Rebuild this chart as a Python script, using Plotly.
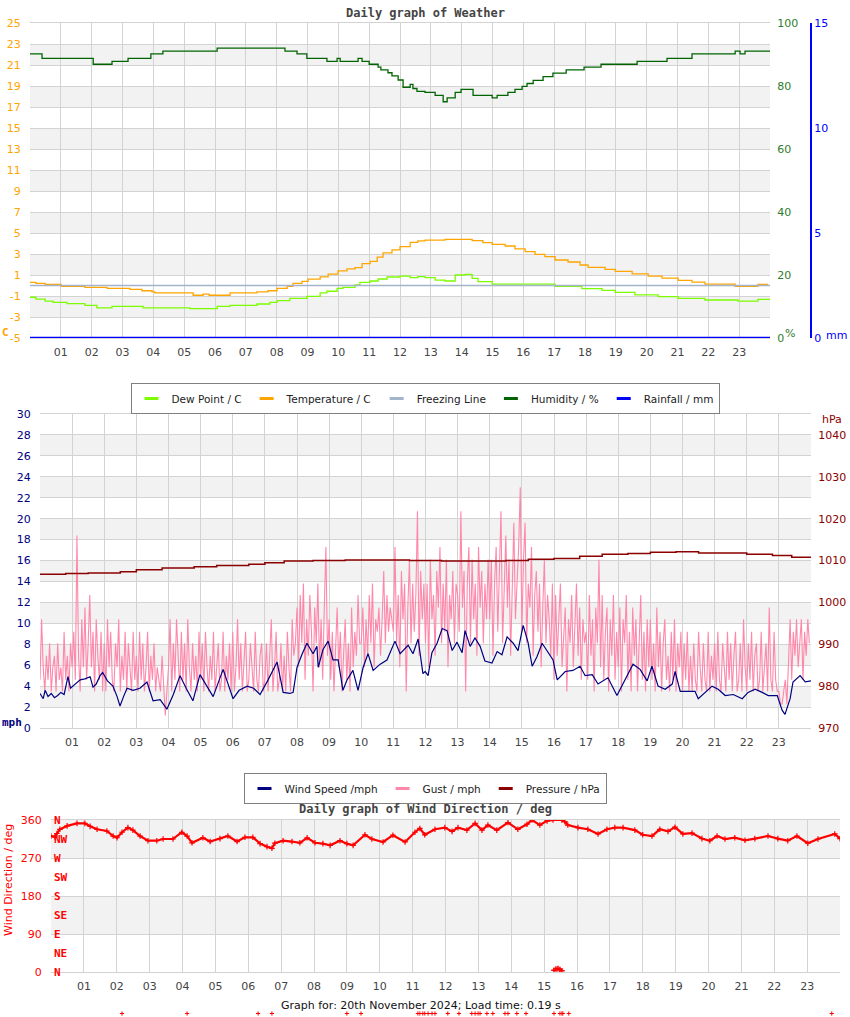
import plotly.graph_objects as go

W, H = 850, 1017

# ---------------- Chart 1: weather ----------------
temp_hours = [0.00, 0.19, 0.49, 1.01, 1.78, 2.50, 3.24, 3.63, 3.96, 4.05, 5.29, 5.61, 5.81, 6.49, 7.36,
              7.72, 8.01, 8.34, 8.53, 8.82, 9.02, 9.41, 9.67, 9.99, 10.28, 10.54, 10.77, 11.03, 11.26,
              11.45, 11.74, 12.00, 12.33, 12.58, 12.81, 13.46, 14.34, 14.69, 14.99, 15.41, 15.73, 16.06,
              16.38, 16.70, 17.03, 17.45, 17.84, 18.10, 18.65, 18.98, 19.53, 20.05, 20.50, 21.02, 21.47,
              21.89, 22.87, 23.61, 23.94]
temp_c = [0.30, 0.21, 0.11, -0.08, -0.17, -0.27, -0.36, -0.50, -0.60, -0.71, -0.93, -0.82, -0.93, -0.71,
          -0.60, -0.50, -0.27, -0.08, 0.21, 0.40, 0.60, 0.83, 1.08, 1.40, 1.59, 1.70, 2.08, 2.30, 2.71,
          3.10, 3.40, 3.70, 4.10, 4.25, 4.33, 4.40, 4.27, 4.08, 3.92, 3.76, 3.48, 3.22, 2.97, 2.75, 2.43,
          2.24, 1.95, 1.73, 1.54, 1.35, 1.10, 0.90, 0.71, 0.49, 0.33, 0.14, -0.08, 0.11, 0.11]

dew_hours = [0.00, 0.19, 0.49, 0.75, 1.20, 1.78, 2.17, 2.66, 3.67, 5.19, 6.07, 6.49, 7.36, 7.78, 8.01,
             8.43, 8.98, 9.41, 9.63, 9.96, 10.15, 10.54, 10.70, 11.03, 11.29, 11.58, 12.00, 12.33, 12.58,
             12.81, 13.14, 13.46, 13.79, 14.11, 14.34, 14.53, 14.99, 16.06, 17.03, 17.90, 18.55, 18.98,
             19.62, 20.37, 21.02, 21.89, 22.96, 23.61, 24.00]
dew_c = [-1.12, -1.29, -1.48, -1.60, -1.73, -1.89, -2.14, -1.98, -2.14, -2.20, -1.98, -1.89, -1.76, -1.60,
         -1.45, -1.22, -1.03, -0.71, -0.55, -0.27, -0.17, 0.05, 0.30, 0.43, 0.62, 0.81, 0.90, 0.75, 0.85,
         0.75, 0.52, 0.43, 1.00, 1.05, 0.68, 0.37, 0.14, 0.14, -0.08, -0.30, -0.46, -0.65, -0.90, -1.06,
         -1.22, -1.38, -1.48, -1.32, -1.30]

hum_hours = [0.00, 0.39, 2.05, 2.66, 3.18, 3.92, 4.31, 6.07, 8.27, 8.66, 8.98, 9.63, 9.96, 10.06, 10.64,
             10.77, 11.00, 11.29, 11.38, 11.61, 11.74, 11.94, 12.10, 12.33, 12.42, 12.55, 12.81, 13.14,
             13.40, 13.53, 13.79, 13.98, 14.37, 14.99, 15.15, 15.50, 15.73, 15.96, 16.12, 16.32, 16.64,
             16.96, 17.39, 17.97, 18.52, 19.69, 20.66, 21.47, 22.87, 23.03, 23.19, 24.00]
hum_pct = [90.2, 88.8, 86.9, 87.8, 88.8, 90.2, 91.1, 92.0, 91.1, 90.2, 88.8, 87.8, 88.8, 87.8, 88.8,
           87.8, 86.9, 86.0, 85.1, 84.2, 83.2, 81.9, 79.6, 80.5, 79.2, 78.3, 78.0, 77.0,
           75.0, 76.2, 78.0, 78.9, 77.0, 76.2, 77.0, 78.0, 78.9, 79.9, 80.8, 81.8, 83.0,
           84.1, 85.1, 86.0, 86.9, 87.8, 88.8, 90.2, 91.1, 90.2, 91.1, 91.1]

freeze_hours = [0, 24]
freeze_c = [0, 0]
rain_hours = [0, 6, 12, 18, 24]
rain_mm = [0, 0, 0, 0, 0]

temp_ticks = list(range(-5, 26, 2))
temp_tick_text = [str(v) for v in temp_ticks]

# ---------------- Chart 2: wind ----------------
wind_hours = [0.00, 0.10, 0.16, 0.25, 0.35, 0.45, 0.55, 0.65, 0.75, 0.87, 0.95, 1.10, 1.25, 1.40, 1.56,
              1.65, 1.75, 1.87, 1.95, 2.10, 2.27, 2.40, 2.49, 2.60, 2.71, 2.90, 3.11, 3.33, 3.45, 3.52,
              3.74, 3.95, 4.15, 4.36, 4.55, 4.76, 4.98, 5.20, 5.39, 5.70, 6.01, 6.20, 6.45, 6.65, 6.85,
              7.10, 7.38, 7.57, 7.78, 7.88, 8.00, 8.15, 8.31, 8.50, 8.62, 8.66, 8.81, 8.97, 9.12, 9.28,
              9.43, 9.56, 9.74, 9.90, 10.06, 10.21, 10.37, 10.59, 10.80, 11.05, 11.21, 11.46, 11.61,
              11.77, 11.92, 11.99, 12.08, 12.20, 12.36, 12.52, 12.67, 12.83, 12.98, 13.14, 13.23, 13.39,
              13.54, 13.70, 13.85, 14.07, 14.23, 14.38, 14.54, 14.73, 14.88, 15.04, 15.19, 15.32, 15.47,
              15.63, 15.78, 15.97, 16.10, 16.35, 16.59, 16.81, 16.97, 17.19, 17.37, 17.68, 17.96, 18.21,
              18.46, 18.68, 18.90, 19.05, 19.24, 19.46, 19.68, 19.77, 19.93, 20.17, 20.39, 20.49, 20.70,
              20.92, 21.11, 21.33, 21.58, 21.86, 22.04, 22.26, 22.48, 22.67, 22.95, 23.10, 23.19, 23.35,
              23.44, 23.66, 23.82, 24.00]
wind_mph = [3.3, 2.8, 3.6, 3.0, 3.3, 2.9, 3.1, 3.4, 3.2, 4.9, 3.8, 4.2, 4.6, 4.7, 4.9,
            3.9, 4.2, 5.0, 5.3, 4.5, 4.0, 3.0, 2.1, 3.0, 3.8, 3.6, 3.8, 4.4, 3.2, 2.6,
            2.7, 1.8, 3.2, 5.0, 3.8, 2.6, 5.1, 4.0, 3.0, 5.6, 2.8, 3.6, 4.0, 3.8, 3.2,
            4.6, 6.3, 3.4, 3.3, 3.4, 5.8, 7.0, 8.1, 7.1, 7.8, 5.8, 7.5, 8.3, 6.5, 6.5,
            3.6, 4.6, 5.5, 3.6, 5.8, 7.1, 5.5, 6.1, 6.5, 8.3, 7.1, 7.9, 7.1,
            8.5, 5.2, 5.4, 5.0, 7.2, 8.1, 9.5, 9.3, 7.4, 8.2, 7.2, 9.3, 7.8,
            8.6, 7.8, 6.4, 6.2, 7.3, 7.0, 8.7, 8.1, 7.4, 9.8, 8.2, 5.9, 6.8,
            8.1, 7.4, 6.5, 4.6, 5.4, 5.5, 5.9, 5.0, 5.1, 4.2, 4.8, 3.1, 4.6,
            6.1, 5.6, 4.5, 5.9, 4.0, 3.7, 4.2, 5.4, 3.5, 3.5, 3.5, 2.8, 3.4,
            4.0, 3.7, 3.1, 3.2, 2.8, 3.4, 3.7, 3.4, 3.1, 3.1, 1.7, 1.3, 2.8,
            4.4, 5.0, 4.4, 4.5]

# gust readings, 20 per hour (every 3 minutes)
gust_by_hour = [
    [4.6, 10.4, 5.8, 3.5, 6.9, 4.6, 8.1, 3.5, 5.8, 6.9, 3.5, 8.1, 4.6, 5.8, 3.5, 9.2, 4.6, 6.9, 3.5, 8.1],
    [5.8, 9.2, 4.6, 18.4, 6.9, 3.5, 10.4, 5.8, 11.5, 4.6, 8.1, 12.7, 5.8, 9.2, 3.5, 10.4, 6.9, 4.6, 9.2, 3.5],
    [8.1, 3.5, 10.4, 5.8, 9.2, 4.6, 3.5, 8.1, 5.8, 10.4, 3.5, 6.9, 4.6, 9.2, 3.5, 8.1, 5.8, 3.5, 9.2, 4.6],
    [6.9, 3.5, 9.2, 4.6, 8.1, 3.5, 5.8, 9.2, 3.5, 6.9, 4.6, 8.1, 3.5, 5.8, 4.6, 3.5, 6.9, 3.5, 1.2, 3.5],
    [5.8, 10.4, 3.5, 8.1, 4.6, 10.4, 6.9, 3.5, 9.2, 4.6, 8.1, 3.5, 10.4, 5.8, 3.5, 8.1, 4.6, 6.9, 3.5, 9.2],
    [4.6, 8.1, 3.5, 9.2, 5.8, 3.5, 6.9, 4.6, 9.2, 3.5, 5.8, 8.1, 3.5, 4.6, 9.2, 3.5, 6.9, 4.6, 8.1, 3.5],
    [9.2, 3.5, 5.8, 10.4, 4.6, 8.1, 3.5, 6.9, 9.2, 3.5, 4.6, 8.1, 5.8, 3.5, 9.2, 4.6, 3.5, 6.9, 8.1, 3.5],
    [4.6, 8.1, 3.5, 6.9, 10.4, 3.5, 5.8, 9.2, 3.5, 4.6, 8.1, 3.5, 6.9, 3.5, 9.2, 5.8, 3.5, 10.4, 6.9, 8.1],
    [11.5, 5.8, 12.7, 8.1, 13.8, 4.6, 10.4, 6.9, 12.7, 9.2, 3.5, 11.5, 8.1, 13.8, 5.8, 10.4, 4.6, 11.5, 17.3, 6.9],
    [10.4, 4.6, 9.2, 3.5, 8.1, 11.5, 5.8, 9.2, 3.5, 6.9, 10.4, 4.6, 8.1, 3.5, 11.5, 5.8, 9.2, 6.9, 12.7, 8.1],
    [8.1, 11.5, 5.8, 10.4, 6.9, 12.7, 8.1, 13.8, 5.8, 10.4, 9.2, 11.5, 6.9, 10.4, 15.0, 8.1, 12.7, 9.2, 11.5, 10.4],
    [9.2, 17.3, 8.1, 12.7, 5.8, 15.0, 10.4, 13.8, 3.5, 11.5, 16.1, 8.1, 13.8, 9.2, 12.7, 20.7, 6.9, 15.0, 10.4, 13.8],
    [8.1, 13.8, 5.8, 16.1, 10.4, 12.7, 6.9, 15.0, 11.5, 17.3, 8.1, 13.8, 9.2, 16.1, 5.8, 12.7, 10.4, 15.0, 8.1, 13.8],
    [12.7, 9.2, 20.7, 11.5, 15.0, 3.5, 13.8, 17.3, 8.1, 16.1, 10.4, 13.8, 6.9, 17.3, 11.5, 15.0, 8.1, 13.8, 10.4, 16.1],
    [10.4, 16.1, 6.9, 13.8, 17.3, 9.2, 15.0, 20.7, 8.1, 13.8, 18.4, 11.5, 16.1, 6.9, 15.0, 19.6, 10.4, 13.8, 17.3, 23.0],
    [9.2, 16.1, 19.6, 8.1, 13.8, 11.5, 17.3, 6.9, 12.7, 15.0, 9.2, 13.8, 5.8, 11.5, 16.1, 8.1, 12.7, 10.4, 6.9, 13.8],
    [4.6, 12.7, 6.9, 10.4, 13.8, 5.8, 9.2, 11.5, 3.5, 10.4, 8.1, 12.7, 5.8, 9.2, 13.8, 6.9, 11.5, 4.6, 10.4, 8.1],
    [9.2, 4.6, 12.7, 6.9, 10.4, 3.5, 11.5, 8.1, 16.1, 5.8, 12.7, 4.6, 9.2, 11.5, 3.5, 10.4, 6.9, 12.7, 4.6, 9.2],
    [5.8, 11.5, 3.5, 10.4, 8.1, 12.7, 4.6, 9.2, 3.5, 11.5, 6.9, 10.4, 3.5, 8.1, 12.7, 4.6, 9.2, 3.5, 10.4, 5.8],
    [10.4, 4.6, 8.1, 3.5, 11.5, 5.8, 9.2, 3.5, 8.1, 10.4, 4.6, 6.9, 3.5, 9.2, 4.6, 10.4, 3.5, 8.1, 5.8, 9.2],
    [3.5, 8.1, 4.6, 9.2, 3.5, 6.9, 3.5, 8.1, 4.6, 3.5, 9.2, 5.8, 3.5, 8.1, 4.6, 3.5, 9.2, 3.5, 6.9, 4.6],
    [8.1, 3.5, 9.2, 4.6, 3.5, 8.1, 5.8, 3.5, 9.2, 4.6, 8.1, 3.5, 6.9, 9.2, 3.5, 4.6, 8.1, 3.5, 10.4, 5.8],
    [3.5, 8.1, 4.6, 9.2, 3.5, 6.9, 8.1, 3.5, 4.6, 9.2, 3.5, 5.8, 8.1, 3.5, 11.5, 4.6, 3.5, 9.2, 4.6, 3.5],
    [3.5, 2.3, 2.3, 3.5, 4.6, 2.3, 6.9, 10.4, 4.6, 9.2, 6.9, 10.4, 5.8, 8.1, 10.4, 4.6, 9.2, 6.9, 10.4, 8.1],
]

press_hours = [0, 0.8, 1.5, 2.5, 3.0, 3.8, 4.8, 5.5, 6.5, 7.0, 7.6, 8.5, 9.5, 10.5, 11.5, 12.5, 13.5,
               14.5, 15.2, 16.0, 16.8, 17.5, 18.3, 19.0, 19.8, 20.5, 21.3, 22.0, 22.8, 23.4, 24.0]
press_hpa = [1006.7, 1006.9, 1007.0, 1007.3, 1007.8, 1008.2, 1008.5, 1008.8, 1009.1, 1009.5, 1009.9,
             1010.0, 1010.1, 1010.1, 1010.0, 1009.9, 1009.9, 1010.0, 1010.3, 1010.5, 1011.0, 1011.5,
             1011.7, 1012.0, 1012.1, 1011.8, 1011.8, 1011.5, 1011.2, 1010.8, 1010.6]

# ---------------- Chart 3: wind direction ----------------
dir_hours = [0.00, 0.12, 0.18, 0.27, 0.49, 0.79, 1.03, 1.19, 1.40, 1.70, 1.89, 2.01, 2.16, 2.34, 2.49,
             2.71, 2.95, 3.22, 3.41, 3.71, 3.98, 4.14, 4.29, 4.62, 4.84, 5.14, 5.38, 5.66, 5.90, 6.14,
             6.36, 6.57, 6.72, 6.81, 7.06, 7.33, 7.57, 7.79, 8.03, 8.27, 8.49, 8.79, 9.00, 9.19, 9.55,
             9.76, 10.10, 10.40, 10.77, 11.07, 11.22, 11.37, 11.68, 11.98, 12.20, 12.38, 12.65, 12.90,
             13.11, 13.29, 13.56, 13.90, 14.20, 14.48, 14.63, 14.87, 15.09, 15.27, 15.54, 15.63, 15.72,
             16.03, 16.33, 16.64, 16.91, 17.15, 17.40, 17.76, 18.00, 18.28, 18.52, 18.77, 18.98, 19.22,
             19.50, 19.80, 20.04, 20.26, 20.50, 20.80, 21.11, 21.41, 21.81, 22.11, 22.41, 22.69, 23.02,
             23.33, 23.84, 24.00]
dir_deg = [322, 320, 328, 338, 346, 352, 352, 345, 338, 334, 322, 318, 331, 342, 336,
           322, 311, 311, 315, 315, 331, 322, 306, 318, 309, 316, 322, 309, 319, 319,
           304, 297, 293, 305, 311, 309, 306, 318, 306, 304, 300, 311, 304, 300, 325,
           315, 308, 324, 308, 331, 340, 325, 338, 342, 333, 342, 336, 352,
           336, 348, 336, 354, 338, 350, 360, 348, 358, 360, 360, 356, 348,
           342, 338, 327, 338, 342, 342, 336, 325, 322, 338, 333, 343, 327,
           329, 316, 311, 322, 315, 318, 312, 316, 322, 316, 311, 322, 305,
           315, 327, 316]
wrap_hours = [15.30, 15.36, 15.42, 15.48, 15.54]
wrap_deg = [4, 7, 8, 6, 3]
# isolated marks printed under the footer of the original graph
calm_hours = [2.16, 4.14, 6.30, 6.72, 9.00, 9.43, 11.16, 11.22, 11.31, 11.37, 11.47, 11.59, 11.68,
              12.07, 12.41, 12.80, 12.90, 12.99, 13.05, 13.26, 13.44, 13.81, 13.90, 14.17, 14.45,
              15.30, 15.48, 15.54, 15.57, 15.75, 23.75]
calm_level = [0] * len(calm_hours)

compass_labels = ["N", "NE", "E", "SE", "S", "SW", "W", "NW", "N"]
compass_deg = [0, 45, 90, 135, 180, 225, 270, 315, 360]

hour_ticks = list(range(1, 24))
hour_labels = ["%02d" % h for h in hour_ticks]

# ---------------- colours ----------------
C_DEW = "#7cfc00"
C_TEMP = "#ffa500"
C_FREEZE = "#a3b5cb"
C_HUM = "#006400"
C_HUM_T = "#2e7d2e"
C_RAIN = "#0000ff"
C_WIND = "#000080"
C_GUST = "#ff88aa"
C_PRESS = "#8b0000"
C_DIR = "#ff0000"
GRID = "#d3d3d3"
BAND = "#f2f2f2"
FONT = "DejaVu Sans"
MONO = "DejaVu Sans Mono"


def px(xp):
    return xp / W


def py(yp):
    return 1 - yp / H


fig = go.Figure()


def legend_entry(name, color, xa, ya, legend):
    # short thick legend key, like the original chart's legend
    fig.add_trace(go.Scatter(x=[None], y=[None], name=name, mode="markers", xaxis=xa, yaxis=ya,
                             legend=legend, hoverinfo="skip",
                             marker=dict(symbol="line-ew", size=10, color=color,
                                         line=dict(color=color, width=3))))


# chart 1 legend keys
legend_entry("Dew Point / C", C_DEW, "x", "y", "legend")
legend_entry("Temperature / C", C_TEMP, "x", "y", "legend")
legend_entry("Freezing Line", C_FREEZE, "x", "y", "legend")
legend_entry("Humidity / %", C_HUM, "x", "y", "legend")
legend_entry("Rainfall / mm", C_RAIN, "x", "y", "legend")
# chart 2 legend keys
legend_entry("Wind Speed /mph", C_WIND, "x2", "y4", "legend2")
legend_entry("Gust / mph", C_GUST, "x2", "y4", "legend2")
legend_entry("Pressure / hPa", C_PRESS, "x2", "y4", "legend2")

# chart 1 traces
fig.add_trace(go.Scatter(x=dew_hours, y=dew_c, name="Dew Point / C", mode="lines", showlegend=False,
                         line=dict(color=C_DEW, width=1.3, shape="hv"), xaxis="x", yaxis="y"))
fig.add_trace(go.Scatter(x=temp_hours, y=temp_c, name="Temperature / C", mode="lines", showlegend=False,
                         line=dict(color=C_TEMP, width=1.3, shape="hv"), xaxis="x", yaxis="y"))
fig.add_trace(go.Scatter(x=freeze_hours, y=freeze_c, name="Freezing Line", mode="lines", showlegend=False,
                         line=dict(color=C_FREEZE, width=1.3), xaxis="x", yaxis="y"))
fig.add_trace(go.Scatter(x=hum_hours, y=hum_pct, name="Humidity / %", mode="lines", showlegend=False,
                         line=dict(color=C_HUM, width=1.3, shape="hv"), xaxis="x", yaxis="y2"))
fig.add_trace(go.Scatter(x=rain_hours, y=rain_mm, name="Rainfall / mm", mode="lines", showlegend=False,
                         line=dict(color=C_RAIN, width=2.5), xaxis="x", yaxis="y3", cliponaxis=False))

# chart 2 traces
n_per_hour = len(gust_by_hour[0])
gust_hours = [h + i / n_per_hour for h in range(24) for i in range(n_per_hour)]
gust_mph = [v for row in gust_by_hour for v in row]
fig.add_trace(go.Scatter(x=gust_hours, y=gust_mph, name="Gust / mph", mode="lines", showlegend=False,
                         line=dict(color=C_GUST, width=1.1), xaxis="x2", yaxis="y4"))
fig.add_trace(go.Scatter(x=wind_hours, y=wind_mph, name="Wind Speed /mph", mode="lines", showlegend=False,
                         line=dict(color=C_WIND, width=1.2), xaxis="x2", yaxis="y4"))
fig.add_trace(go.Scatter(x=press_hours, y=press_hpa, name="Pressure / hPa", mode="lines", showlegend=False,
                         line=dict(color=C_PRESS, width=1.5, shape="hv"), xaxis="x2", yaxis="y5"))

# chart 3 traces
fig.add_trace(go.Scatter(x=dir_hours, y=dir_deg, mode="lines+markers", showlegend=False,
                         name="Wind Direction / deg",
                         line=dict(color=C_DIR, width=2.2),
                         marker=dict(symbol="cross-thin", size=4, line=dict(color=C_DIR, width=1.2)),
                         xaxis="x3", yaxis="y6"))
fig.add_trace(go.Scatter(x=wrap_hours, y=wrap_deg, mode="markers", showlegend=False,
                         marker=dict(symbol="cross-thin", size=4, line=dict(color=C_DIR, width=1.5)),
                         xaxis="x3", yaxis="y6"))
fig.add_trace(go.Scatter(x=calm_hours, y=calm_level, mode="markers", showlegend=False,
                         marker=dict(symbol="cross-thin", size=3, line=dict(color=C_DIR, width=1)),
                         xaxis="x4", yaxis="y7"))

# alternating bands
shapes = []
for lo in range(-3, 25, 4):
    shapes.append(dict(type="rect", xref="x domain", yref="y", x0=0, x1=1, y0=lo, y1=lo + 2,
                       fillcolor=BAND, line_width=0, layer="below"))
for lo in range(2, 30, 4):
    shapes.append(dict(type="rect", xref="x2 domain", yref="y4", x0=0, x1=1, y0=lo, y1=lo + 2,
                       fillcolor=BAND, line_width=0, layer="below"))
for lo in (90, 270):
    shapes.append(dict(type="rect", xref="x3 domain", yref="y6", x0=0, x1=1, y0=lo, y1=lo + 90,
                       fillcolor=BAND, line_width=0, layer="below"))


def xax(dom, anchor):
    return dict(domain=dom, anchor=anchor, range=[0, 24], tickmode="array", tickvals=hour_ticks,
                ticktext=hour_labels, showgrid=True, gridcolor=GRID, gridwidth=1, zeroline=False,
                showline=True, linecolor=GRID, linewidth=1, mirror=True, automargin=False,
                ticks="outside", ticklen=4, tickcolor="rgba(0,0,0,0)",
                tickfont=dict(family=FONT, size=11, color="#444"), fixedrange=True)


def yax(dom, anchor, rng, dtick, color, **kw):
    d = dict(domain=dom, anchor=anchor, range=rng, dtick=dtick, showgrid=True, gridcolor=GRID,
             gridwidth=1, zeroline=False, showline=False, ticks="outside", ticklen=6,
             automargin=False, tickcolor="rgba(0,0,0,0)",
             tickfont=dict(family=FONT, size=11, color=color), fixedrange=True)
    d.update(kw)
    return d


d1 = [py(338), py(23)]
d2 = [py(728), py(414)]
d3 = [py(972), py(820)]


def note(text, xp, yp, size, color, family=FONT, angle=0):
    return dict(text=text, x=px(xp), y=py(yp), xref="paper", yref="paper", showarrow=False,
                xanchor="center", yanchor="middle", textangle=angle,
                font=dict(family=family, size=size, color=color))


annotations = [
    note("<b>Daily graph of Weather</b>", 425, 13, 12, "#444", MONO),
    note("<b>Daily graph of Wind Direction / deg</b>", 425, 809, 12, "#444", MONO),
    note("<b>C</b>", 5, 332, 11, C_TEMP, MONO),
    note("%", 790, 333, 11, C_HUM_T),
    note("mm", 836, 335, 11, C_RAIN),
    note("hPa", 832, 419, 11, C_PRESS),
    note("<b>mph</b>", 12, 722, 11, C_WIND, MONO),
    note("Wind Direction / deg", 8, 880, 11, C_DIR, FONT, -90),
    note("Graph for: 20th November 2024; Load time: 0.19 s", 421, 1005, 11, "#111"),
]
for lab, deg in zip(compass_labels, compass_deg):
    annotations.append(dict(text="<b>%s</b>" % lab, x=px(52), xanchor="left", y=deg, xref="paper",
                            yref="y6", yanchor="middle", showarrow=False,
                            font=dict(family=MONO, size=11, color=C_DIR)))

legend_common = dict(orientation="h", x=0.5, xanchor="center", yanchor="top",
                     bordercolor="#808080", borderwidth=1, bgcolor="white", itemwidth=30,
                     itemclick=False, itemdoubleclick=False,
                     font=dict(family=FONT, size=10.5, color="#222"))

fig.update_layout(
    width=W, height=H, margin=dict(l=0, r=0, t=0, b=0, pad=0, autoexpand=False),
    paper_bgcolor="white", plot_bgcolor="rgba(0,0,0,0)",
    font=dict(family=FONT, size=11),
    xaxis=xax([px(30), px(770)], "y"),
    yaxis=yax(d1, "x", [-5, 25], 2, C_TEMP, tickmode="array", tickvals=temp_ticks,
              ticktext=temp_tick_text),
    yaxis2=dict(overlaying="y", side="right", anchor="x", range=[0, 100], dtick=20, showgrid=False,
                zeroline=False, ticks="outside", ticklen=4, tickcolor="rgba(0,0,0,0)", automargin=False,
                tickfont=dict(family=FONT, size=11, color=C_HUM_T), fixedrange=True),
    yaxis3=dict(overlaying="y", side="right", anchor="free", position=px(811), range=[0, 15],
                dtick=5, showgrid=False, zeroline=False, showline=True, linecolor=C_RAIN,
                linewidth=2, ticks="", automargin=False,
                tickfont=dict(family=FONT, size=11, color=C_RAIN), fixedrange=True),
    xaxis2=xax([px(40), px(811)], "y4"),
    yaxis4=yax(d2, "x2", [0, 30], 2, C_WIND, tick0=0),
    yaxis5=dict(overlaying="y4", side="right", anchor="x2", range=[970, 1045], tick0=970, dtick=10,
                showgrid=False, zeroline=False, ticks="outside", ticklen=4, automargin=False,
                tickcolor="rgba(0,0,0,0)", tickfont=dict(family=FONT, size=11, color=C_PRESS),
                fixedrange=True),
    xaxis3=xax([px(51), px(840)], "y6"),
    yaxis6=yax(d3, "x3", [0, 360], 90, C_DIR, tick0=0),
    xaxis4=dict(domain=[px(51), px(840)], anchor="y7", range=[0, 24], visible=False, fixedrange=True),
    yaxis7=dict(domain=[py(1017), py(1010)], anchor="x4", range=[-1, 1], visible=False, fixedrange=True),
    shapes=shapes,
    annotations=annotations,
    legend=dict(y=py(383), **legend_common),
    legend2=dict(y=py(773), **legend_common),
)

# the page body's default 8px margin would shift the whole chart; remove it
fig.write_html("out.html", config={"displayModeBar": False},
               post_script="document.body.style.margin='0px';")
